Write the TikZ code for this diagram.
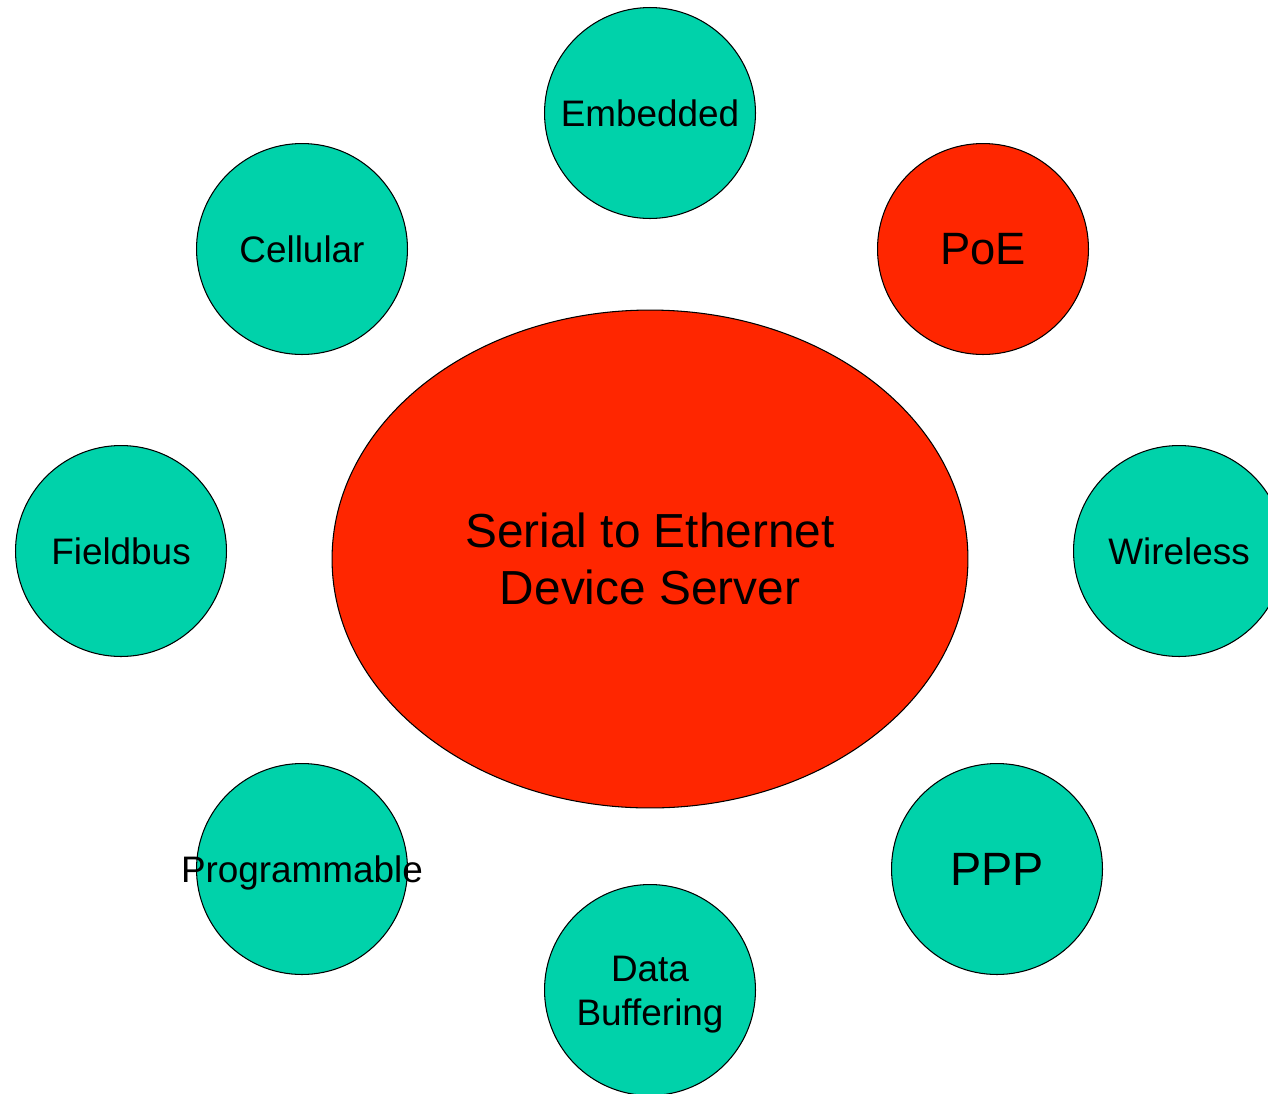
\documentclass[tikz,border=0pt]{standalone}
\usepackage{fontspec}
\setmainfont{Liberation Sans}
\usepackage{tikz}
\usetikzlibrary{positioning,shapes.geometric}
\definecolor{teal}{HTML}{00D2AA}
\definecolor{hot}{HTML}{FF2600}

\begin{document}
\begin{tikzpicture}
            [
            x=0.02cm,y=-0.02cm,
            bubble/.style={circle,draw,line width=0.6pt,fill=teal,minimum size=4.22cm,inner sep=0pt,
                font=\fontsize{21}{25}\selectfont,align=center},
            hub/.style={ellipse,draw,line width=0.6pt,fill=hot,minimum width=12.72cm,minimum height=9.96cm,
                font=\fontsize{27.2}{32.5}\selectfont,align=center}
            ]
        \useasboundingbox (0,0) rectangle (1268,1093);
        \clip (0,0) rectangle (1268,1093);
        \node[hub] (server) at (650,559) {Serial to Ethernet\\Device Server};
        \node[bubble] (embedded) at (650,113) {Embedded};
        \node[bubble,fill=hot,font=\fontsize{25.8}{31}\selectfont] (poe) at (983,249) {PoE};
        \node[bubble] (cellular) at (302,249) {Cellular};
        \node[bubble] (fieldbus) at (121,551) {Fieldbus};
        \node[bubble] (wireless) at (1179,551) {Wireless};
        \node[bubble] (prog) at (302,869) {};
        \node[font=\fontsize{21}{25}\selectfont,inner sep=0pt] (progtext) at (302,873) {Programmable};
        \node[bubble,font=\fontsize{26.6}{32}\selectfont] (ppp) at (997,869) {PPP};
        \node[bubble] (buffer) at (650,990) {};
        \node[font=\fontsize{21}{25}\selectfont,align=center,inner sep=0pt] (buffertext) at (650,995) {Data\\Buffering};
        \end{tikzpicture}
\end{document}
